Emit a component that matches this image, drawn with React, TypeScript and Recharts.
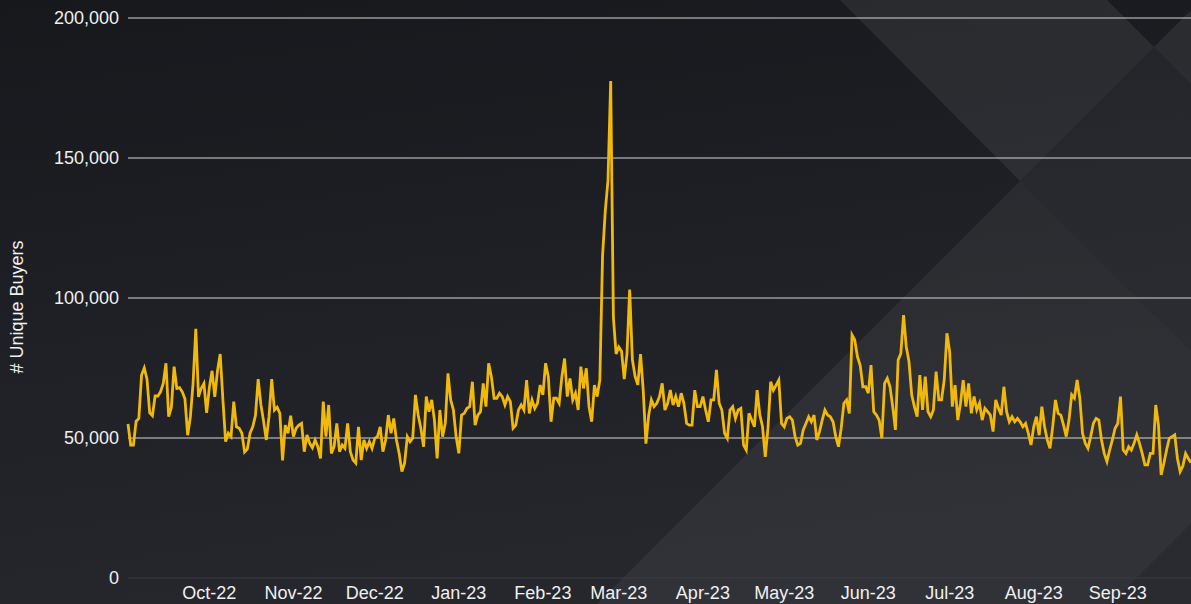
import { LineChart, Line, XAxis, YAxis, CartesianGrid } from 'recharts';

// daily unique buyers, one array per month (Sep-22 .. Sep-23)
const sep22 = [55000, 47500, 47500, 56000, 57000, 72500, 75000, 71000, 59000, 58000, 65000, 65000, 66500, 69500, 76700, 57600, 61000, 75500, 67700, 68000, 66500, 64000, 51000, 57600, 69500, 89000, 64700, 67700, 69500, 59000];
const oct22 = [68000, 74000, 64700, 74000, 80000, 63600, 48700, 51700, 50500, 63000, 54000, 53500, 51700, 45000, 46000, 51700, 54000, 58000, 71000, 62000, 56000, 49300, 57600, 71000, 60000, 61000, 58800, 42000, 54600, 51700, 58000];
const nov22 = [50500, 53500, 54600, 55200, 45100, 51100, 48100, 46500, 49300, 46900, 42700, 63000, 50500, 61800, 44500, 46900, 55200, 45100, 47500, 46300, 55200, 45100, 42100, 41000, 54000, 42100, 49300, 46300, 48700, 46300];
const dec22 = [49900, 50500, 54000, 45100, 49300, 58200, 51700, 57000, 49300, 44500, 38000, 41000, 50500, 48700, 49900, 65400, 58200, 53500, 46900, 64800, 59400, 63600, 56400, 42700, 60000, 50500, 55200, 73100, 63600, 60000, 50500];
const jan23 = [44500, 58200, 58800, 60600, 61200, 70100, 54600, 58200, 59400, 69500, 61200, 76700, 71900, 64200, 64200, 66000, 64800, 61800, 64800, 63000, 53500, 54600, 60000, 61800, 60000, 70700, 58800, 63600, 60600, 62400, 68900];
const feb23 = [65400, 76700, 71900, 55800, 64200, 64200, 62400, 71900, 78400, 64800, 71300, 63600, 66000, 60000, 75500, 67700, 74900, 61200, 55800, 68900, 64800, 70700, 115000, 131000, 142000, 177500, 93000, 80000];
const mar23 = [82500, 81000, 71000, 80000, 103000, 78000, 72000, 69000, 80000, 67000, 48000, 58000, 63600, 61200, 62400, 64800, 69500, 60000, 62400, 67100, 61800, 64800, 61200, 66000, 62400, 55200, 54600, 54600, 67100, 61200, 61200];
const apr23 = [64800, 60000, 55800, 63600, 63600, 74300, 62400, 60000, 51700, 49900, 60000, 61200, 57000, 60000, 60600, 47500, 45700, 58800, 56400, 54000, 67100, 58200, 54000, 43300, 53500, 70100, 67100, 68900, 70700, 55200];
const may23 = [54000, 57000, 57600, 56400, 50500, 47500, 48100, 52900, 55200, 57600, 55800, 58200, 49300, 52300, 56400, 60000, 58200, 57600, 55800, 50500, 46900, 53500, 62400, 63600, 58800, 86800, 85000, 79000, 76000, 68300, 68300];
const jun23 = [66000, 76000, 59400, 58200, 56400, 49900, 69500, 71300, 68300, 61200, 52900, 77800, 80200, 93900, 82600, 77300, 65400, 61200, 57600, 72500, 60000, 71900, 59400, 57600, 60000, 73700, 63600, 63600, 70700, 87400];
const jul23 = [80800, 61200, 68900, 56400, 62400, 70700, 61200, 69500, 58800, 64800, 60000, 62400, 56400, 60600, 59400, 58200, 52300, 63600, 60600, 58200, 68300, 59400, 55800, 57600, 55800, 57000, 55800, 54000, 55200, 51700, 47500];
const aug23 = [54000, 57600, 51000, 61200, 54000, 49300, 46300, 54000, 63600, 58800, 58200, 54600, 50500, 56400, 65400, 64200, 70700, 64200, 51700, 48100, 46300, 50500, 55200, 57000, 56400, 49300, 44500, 41600, 45700, 49300, 53500];
const sep23 = [55200, 64800, 45700, 44500, 46900, 45700, 48100, 51100, 48100, 44500, 40400, 40400, 44500, 44500, 61800, 54600, 36800, 41000, 45700, 49900, 50500, 51100, 42700, 38000, 40000, 44500, 42700, 41200];

const months = [sep22, oct22, nov22, dec22, jan23, feb23, mar23, apr23, may23, jun23, jul23, aug23, sep23];
const monthNames = ['Jan', 'Feb', 'Mar', 'Apr', 'May', 'Jun', 'Jul', 'Aug', 'Sep', 'Oct', 'Nov', 'Dec'];
const yTicks = [0, 50000, 100000, 150000, 200000];

const data = months.flatMap((vals, m) =>
  vals.map((buyers, i) => ({ date: Date.UTC(2022, 8 + m, i + 1), buyers }))
);
const monthTicks = months.slice(1).map((_, m) => Date.UTC(2022, 9 + m, 1));

const fmtMonth = (t: number) => {
  const d = new Date(t);
  return `${monthNames[d.getUTCMonth()]}-${String(d.getUTCFullYear()).slice(2)}`;
};

const font = '"Liberation Sans", Arial, sans-serif';

const Backdrop = () => (
  <svg width={1191} height={604} style={{ position: 'absolute', left: 0, top: 0 }}>
    <defs>
      <linearGradient id="bg" x1="0" y1="0" x2="0.25" y2="1">
        <stop offset="0%" stopColor="#16181c" />
        <stop offset="100%" stopColor="#25272d" />
      </linearGradient>
    </defs>
    <rect width={1191} height={604} fill="url(#bg)" />
    {/* diagonal diamond pattern */}
    <polygon points="840,0 1107,0 1154,47 1020,181" fill="#ffffff" opacity={0.07} />
    <polygon points="1020,181 1154,47 1191,84 1191,351" fill="#ffffff" opacity={0.045} />
    <polygon points="1154,47 1191,10 1191,84" fill="#ffffff" opacity={0.07} />
    <polygon points="1020,181 1191,351 1191,604 597,604" fill="#ffffff" opacity={0.055} />
    <polygon points="1110,604 1191,523 1191,604" fill="#000000" opacity={0.12} />
  </svg>
);

const App = () => {
  return (
    <div style={{ position: 'fixed', left: 0, top: 0, width: 1191, height: 604, overflow: 'hidden' }}>
      <Backdrop />
      <div style={{ position: 'absolute', left: 0, top: 0 }}>
        <LineChart width={1191} height={604} data={data} margin={{ top: 18, right: 0, bottom: 0, left: 0 }}>
          <CartesianGrid vertical={false} horizontalValues={[50000, 100000, 150000, 200000]} stroke="#d6d6d6" strokeWidth={1} />
          <XAxis
            dataKey="date"
            type="number"
            scale="time"
            domain={[data[0].date, data[data.length - 1].date]}
            ticks={monthTicks}
            tickFormatter={fmtMonth}
            height={26}
            tickSize={0}
            tickMargin={8}
            tickLine={false}
            axisLine={{ stroke: '#3a3c42' }}
            tick={{ fill: '#f0f0f0', fontSize: 18, fontFamily: font }}
          />
          <YAxis
            domain={[0, 200000]}
            ticks={yTicks}
            width={128}
            tickSize={0}
            tickMargin={9}
            tickLine={false}
            axisLine={false}
            tickFormatter={(v: number) => v.toLocaleString('en-US')}
            tick={{ fill: '#f0f0f0', fontSize: 18, fontFamily: font }}
            label={{
              content: () => (
                <text x={17} y={307} transform="rotate(-90 17 307)" textAnchor="middle" dominantBaseline="central" fill="#f0f0f0" fontSize={18} fontFamily={font}>
                  # Unique Buyers
                </text>
              ),
            }}
          />
          <Line type="linear" dataKey="buyers" stroke="#f0b90b" strokeWidth={2.8} dot={false} isAnimationActive={false} />
        </LineChart>
      </div>
    </div>
  );
};

export default App;
